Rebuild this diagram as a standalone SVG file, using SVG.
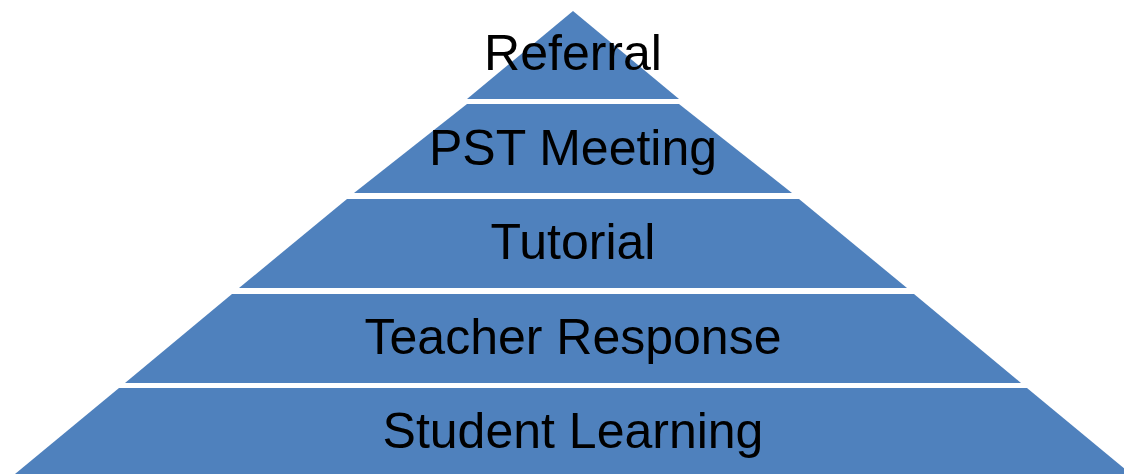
<svg xmlns="http://www.w3.org/2000/svg" width="1124" height="474" viewBox="0 0 1124 474">
<style>
.layer{fill:#4F81BD;}
.lbl{font-family:"Liberation Sans",Arial,sans-serif;font-size:50px;fill:#000;text-anchor:middle;}
</style>
<rect width="1124" height="474" fill="#fff"/>
<g id="referral">
<polygon class="layer" points="573,11 679,99 467,99"/>
<text class="lbl" x="573" y="70">Referral</text>
</g>
<g id="pst-meeting">
<polygon class="layer" points="467,104 679,104 792,193 354,193"/>
<text class="lbl" x="573" y="165">PST Meeting</text>
</g>
<g id="tutorial">
<polygon class="layer" points="347,199 799,199 907,288 239,288"/>
<text class="lbl" x="573" y="259">Tutorial</text>
</g>
<g id="teacher-response">
<polygon class="layer" points="232,294 914,294 1021,383 125,383"/>
<text class="lbl" x="573" y="354">Teacher Response</text>
</g>
<g id="student-learning">
<polygon class="layer" points="119,388 1027,388 1131,474 15,474"/>
<text class="lbl" x="573" y="448">Student Learning</text>
</g>
</svg>
